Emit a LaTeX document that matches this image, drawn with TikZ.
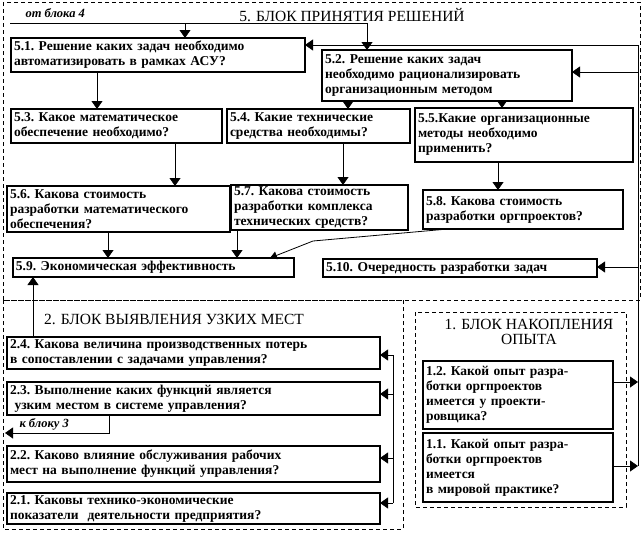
\documentclass[tikz,border=0pt]{standalone}
\usepackage{fontspec}
\setmainfont{Liberation Serif}
\usetikzlibrary{arrows.meta, positioning}

\begin{document}
\begin{tikzpicture}[x=1pt,y=-1pt,
 every node/.style={font=\fontsize{13.5}{15}\selectfont\bfseries\frenchspacing,align=left},
 qbox/.style={rectangle,draw,line width=2pt,anchor=north west,inner xsep=3pt,inner ysep=1pt,outer sep=0pt},
 blk/.style={draw,dash pattern=on 4pt off 3pt,line width=0.8pt},
 head/.style={font=\fontsize{15.5}{15}\selectfont,align=center},
 note/.style={font=\fontsize{12.5}{13}\selectfont\bfseries\itshape,anchor=west},
 arr/.style={-{Triangle[length=8pt,width=11pt]},line width=0.8pt},
 wire/.style={line width=0.8pt}]
\useasboundingbox (0,0) rectangle (642,533);
% dashed blocks
\draw[blk] (3,2) rectangle (640,300);
\draw[blk] (3,300) rectangle (403,529);
\draw[blk] (415,312) rectangle (626,507);
\node[note] (from4) at (22,13) {от блока 4};
\node[head] (t5) at (352,15) {5. БЛОК ПРИНЯТИЯ РЕШЕНИЙ};
\node[head] (t2) at (174,319) {2. БЛОК ВЫЯВЛЕНИЯ УЗКИХ МЕСТ};
\node[head] (t1) at (529,332) {1. БЛОК НАКОПЛЕНИЯ\\ОПЫТА};
% block 5
\node[qbox,text width=288pt,minimum height=34pt] (b51) at (11,38) {5.1. Решение каких задач необходимо\\автоматизировать в рамках АСУ?};
\node[qbox,text width=244pt,minimum height=51pt] (b52) at (322,50) {5.2. Решение каких задач\\необходимо рационализировать\\организационным методом};
\node[qbox,text width=205pt,minimum height=34pt] (b53) at (11,109) {5.3. Какое математическое\\обеспечение необходимо?};
\node[qbox,text width=177pt,minimum height=34pt] (b54) at (227,109) {5.4. Какие технические\\средства необходимы?};
\node[qbox,text width=212pt,minimum height=54pt] (b55) at (415,108) {5.5.Какие организационные\\методы необходимо\\применить?};
\node[qbox,text width=217pt,minimum height=46pt] (b56) at (7,186) {5.6. Какова стоимость\\разработки математического\\обеспечения?};
\node[qbox,text width=171pt,minimum height=45pt] (b57) at (231,185) {5.7. Какова стоимость\\разработки комплекса\\технических средств?};
\node[qbox,text width=194pt,minimum height=39pt] (b58) at (423,190) {5.8. Какова стоимость\\разработки оргпроектов?};
\node[qbox,text width=275pt,minimum height=19pt] (b59) at (13,258) {5.9. Экономическая эффективность};
\node[qbox,text width=268pt,minimum height=18pt] (b510) at (323,259) {5.10. Очередность разработки задач};
% block 2
\node[qbox,text width=367pt,minimum height=32pt] (b24) at (7,337) {2.4. Какова величина производственных потерь\\в сопоставлении с задачами управления?};
\node[qbox,text width=367pt,minimum height=33pt,below=13pt of b24] (b23) {2.3. Выполнение каких функций является\\\ узким местом в системе управления?};
\node[qbox,text width=367pt,minimum height=36pt,below=31pt of b23] (b22) {2.2. Каково влияние обслуживания рабочих\\мест на выполнение функций управления?};
\node[qbox,text width=367pt,minimum height=31pt,below=11pt of b22] (b21) {2.1. Каковы технико-экономические\\показатели\ \ деятельности предприятия?};
\node[note] (to3) at (16,424) {к блоку 3};
% block 1
\node[qbox,text width=184pt,minimum height=68pt] (b12) at (423,361) {1.2. Какой опыт разра-\\ботки оргпроектов\\имеется у проекти-\\ровщика?};
\node[qbox,text width=184pt,minimum height=69pt,below=4pt of b12] (b11) {1.1. Какой опыт разра-\\ботки оргпроектов\\имеется\\в мировой практике?};
% bus lines
\coordinate (top4) at (10,23);
\coordinate (rtop) at (638,45);
\coordinate (rbot) at (638,466);
\coordinate (ltop) at (393,355);
\coordinate (lbot) at (393,503);
\coordinate (k3) at (5,433);
\coordinate (bend) at (313,241);
\draw[arr] (top4) -- (367,23) -- (367,0 |- b52.north);
\draw[arr] (185,23) -- (185,0 |- b51.north);
\draw[wire] (rtop) -- (rbot);
\draw[arr] (rtop) -- (rtop -| b51.east);
\draw[arr] (638,72) -- (b52.east |- 0,72);
\draw[arr] (638,267) -- (b510.east |- 0,267);
\draw[arr] (b12.east |- 0,382) -- (638,382);
\draw[arr] (b11.east |- rbot) -- (rbot);
\draw[arr] (97,0 |- b51.south) -- (97,0 |- b53.north);
\draw[arr] (348,0 |- b52.south) -- (348,0 |- b54.north);
\draw[arr] (502,0 |- b52.south) -- (502,0 |- b55.north);
\draw[arr] (175,0 |- b53.south) -- (175,0 |- b56.north);
\draw[arr] (343,0 |- b54.south) -- (343,0 |- b57.north);
\draw[arr] (498,0 |- b55.south) -- (498,0 |- b58.north);
\draw[arr] (108,0 |- b56.south) -- (108,0 |- b59.north);
\draw[arr] (237,0 |- b57.south) -- (237,0 |- b59.north);
\draw[arr,-{Triangle[length=7pt,width=8pt]}] (448,0 |- b58.south) -- (bend) -- (270,0 |- b59.north);
\draw[arr] (33,0 |- b24.north) -- (33,0 |- b59.south);
\draw[arr] (109,0 |- b23.south) |- (k3);
\draw[wire] (ltop) -- (lbot);
\draw[arr] (ltop) -- (ltop -| b24.east);
\draw[arr] (393,394) -- (b23.east |- 0,394);
\draw[arr] (393,458) -- (b22.east |- 0,458);
\draw[arr] (lbot) -- (lbot -| b21.east);
\end{tikzpicture}
\end{document}
